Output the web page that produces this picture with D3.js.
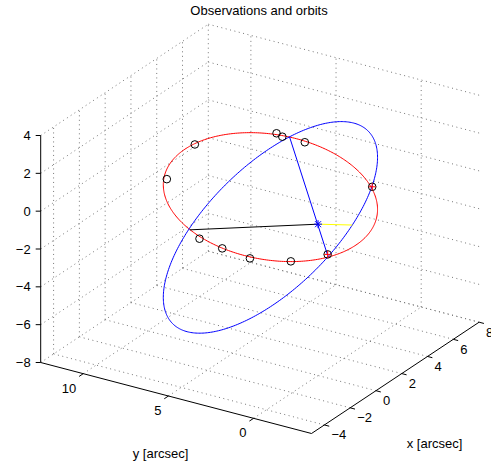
<!DOCTYPE html>
<html>
<head>
<meta charset="utf-8">
<script src="https://cdn.jsdelivr.net/npm/d3@7"></script>
<style>
  body { margin: 0; background: #fff; }
  svg text { font-family: "Liberation Sans", Arial, sans-serif; font-size: 13px; fill: #000; }
</style>
</head>
<body>
<div id="chart"></div>
<script>
// Observations and orbits - 3D view (MATLAB style)

// axis limits and ticks
var xLim = [-5, 8], yLim = [-3.4, 12.5], zLim = [-8, 4]
var xTicks = [-4, -2, 0, 2, 4, 6, 8]
var yTicks = [0, 5, 10]
var zTicks = [-8, -6, -4, -2, 0, 2, 4]

// observed positions (sky plane, z = 0)
var obsX = [3.97, 0.45, 6.70, 6.54, 6.57, 4.32, -2.32, -3.71, -4.36, -4.13, -3.82]
var obsY = [10.24, 9.22, 7.51, 7.05, 5.75, 0.09, -2.32, -1.21, 0.70, 2.50, 4.07]

// marked observations (red +)
var markX = [4.32, -2.32]
var markY = [0.09, -2.32]

// true orbit: centre and two conjugate half-axes (x, y, z)
var orbitCenter = [1.22, 3.72, -1.60]
var orbitA = [1.32, -5.29, 4.35]
var orbitB = [-5.30, -4.01, -0.85]

// line of nodes end points
var nodes = [[6.68, 6.73, 0], [-2.38, -2.36, 0]]
// apastron / periastron
var apastron = [3.57, 10.23, -4.33]
var periastron = [-1.19, -2.91, 1.18]
var star = [0, 0, 0]

var width = 491
var height = 463

var svg = d3.select('#chart')
  .append('svg')
  .attr('width', width)
  .attr('height', height)

// scales to unit box, then projection of the box onto the screen
var xS = d3.scaleLinear().domain(xLim).range([0, 1])
var yS = d3.scaleLinear().domain(yLim).range([0, 1])
var zS = d3.scaleLinear().domain(zLim).range([0, 1])

var C0 = [311.5, 433.5]      // (xmin, ymin, zmin)
var EX = [167.6, -111.3]     // full x edge
var EY = [-270.8, -71.0]     // full y edge
var EZ = [0, -227]           // full z edge

function proj(x, y, z) {
  var u = xS(x), v = yS(y), w = zS(z)
  return [C0[0] + u * EX[0] + v * EY[0] + w * EZ[0],
          C0[1] + u * EX[1] + v * EY[1] + w * EZ[1]]
}

function seg(g, a, b) {
  var p = proj(a[0], a[1], a[2]), q = proj(b[0], b[1], b[2])
  return g.append('line')
    .attr('x1', p[0]).attr('y1', p[1])
    .attr('x2', q[0]).attr('y2', q[1])
}

// grid on back planes
var grid = svg.append('g')
  .attr('stroke', '#777')
  .attr('stroke-width', 1)
  .attr('stroke-dasharray', '1,3.5')
  .attr('fill', 'none')

xTicks.forEach(function (x) {
  seg(grid, [x, yLim[0], zLim[0]], [x, yLim[1], zLim[0]])
  seg(grid, [x, yLim[1], zLim[0]], [x, yLim[1], zLim[1]])
})
yTicks.forEach(function (y) {
  seg(grid, [xLim[0], y, zLim[0]], [xLim[1], y, zLim[0]])
  seg(grid, [xLim[1], y, zLim[0]], [xLim[1], y, zLim[1]])
})
zTicks.forEach(function (z) {
  seg(grid, [xLim[0], yLim[1], z], [xLim[1], yLim[1], z])
  seg(grid, [xLim[1], yLim[0], z], [xLim[1], yLim[1], z])
})

// axes
var axes = svg.append('g').attr('stroke', '#000').attr('stroke-width', 1)
seg(axes, [xLim[0], yLim[1], zLim[0]], [xLim[0], yLim[1], zLim[1]])
seg(axes, [xLim[0], yLim[1], zLim[0]], [xLim[0], yLim[0], zLim[0]])
seg(axes, [xLim[0], yLim[0], zLim[0]], [xLim[1], yLim[0], zLim[0]])

// tick direction vectors
var exLen = Math.hypot(EX[0], EX[1]), eyLen = Math.hypot(EY[0], EY[1])
var tl = 5

zTicks.forEach(function (z) {
  var p = proj(xLim[0], yLim[1], z)
  axes.append('line')
    .attr('x1', p[0]).attr('y1', p[1])
    .attr('x2', p[0] - tl).attr('y2', p[1])
  svg.append('text')
    .attr('x', p[0] - 10).attr('y', p[1])
    .attr('dy', '0.35em')
    .attr('text-anchor', 'end')
    .text(String(z).replace('-', '\u2212'))
})

yTicks.forEach(function (y) {
  var p = proj(xLim[0], y, zLim[0])
  axes.append('line')
    .attr('x1', p[0]).attr('y1', p[1])
    .attr('x2', p[0] - tl * EX[0] / exLen).attr('y2', p[1] - tl * EX[1] / exLen)
  svg.append('text')
    .attr('x', p[0] - 7).attr('y', p[1] + 14.5)
    .attr('dy', '0.35em')
    .attr('text-anchor', 'end')
    .text(y)
})

xTicks.forEach(function (x) {
  var p = proj(x, yLim[0], zLim[0])
  axes.append('line')
    .attr('x1', p[0]).attr('y1', p[1])
    .attr('x2', p[0] - tl * EY[0] / eyLen).attr('y2', p[1] - tl * EY[1] / eyLen)
  svg.append('text')
    .attr('x', p[0] + 7).attr('y', p[1] + 10)
    .attr('dy', '0.35em')
    .attr('text-anchor', 'start')
    .text(String(x).replace('-', '\u2212'))
})

// labels
svg.append('text')
  .text('Observations and orbits')
  .attr('x', 259).attr('y', 14.5)
  .attr('text-anchor', 'middle')

svg.append('text')
  .text('y [arcsec]')
  .attr('x', 160.5).attr('y', 458)
  .attr('text-anchor', 'middle')

svg.append('text')
  .text('x [arcsec]')
  .attr('x', 434.5).attr('y', 447.5)
  .attr('text-anchor', 'middle')

// orbits
var ts = d3.range(0, 361).map(function (d) { return d * Math.PI / 180 })
function orbitPoint(t, flat) {
  var c = Math.cos(t), s = Math.sin(t)
  var x = orbitCenter[0] + orbitA[0] * c + orbitB[0] * s
  var y = orbitCenter[1] + orbitA[1] * c + orbitB[1] * s
  var z = flat ? 0 : orbitCenter[2] + orbitA[2] * c + orbitB[2] * s
  return proj(x, y, z)
}
var line = d3.line()

svg.append('path')
  .attr('d', line(ts.map(function (t) { return orbitPoint(t, true) })))
  .attr('fill', 'none').attr('stroke', '#ff0000').attr('stroke-width', 1)

svg.append('path')
  .attr('d', line(ts.map(function (t) { return orbitPoint(t, false) })))
  .attr('fill', 'none').attr('stroke', '#0000ff').attr('stroke-width', 1)

// line of nodes and apsides
seg(svg, nodes[0], nodes[1]).attr('stroke', '#0000ff').attr('stroke-width', 1)
seg(svg, star, apastron).attr('stroke', '#000').attr('stroke-width', 1)
seg(svg, star, periastron).attr('stroke', '#ffff00').attr('stroke-width', 1)

// observations
svg.append('g').selectAll('circle')
  .data(obsX)
  .join('circle')
  .attr('cx', function (d, i) { return proj(obsX[i], obsY[i], 0)[0] })
  .attr('cy', function (d, i) { return proj(obsX[i], obsY[i], 0)[1] })
  .attr('r', 3.8)
  .attr('fill', 'none')
  .attr('stroke', '#000')
  .attr('stroke-width', 1)

// marked points
markX.forEach(function (x, i) {
  var p = proj(x, markY[i], 0)
  svg.append('path')
    .attr('d', 'M' + (p[0] - 3.5) + ',' + p[1] + 'H' + (p[0] + 3.5) + 'M' + p[0] + ',' + (p[1] - 3.5) + 'V' + (p[1] + 3.5))
    .attr('stroke', '#ff0000').attr('stroke-width', 1)
})

// star
var sp = proj(star[0], star[1], star[2])
svg.append('path')
  .attr('d', 'M' + (sp[0] - 4) + ',' + sp[1] + 'H' + (sp[0] + 4) +
             'M' + sp[0] + ',' + (sp[1] - 4) + 'V' + (sp[1] + 4) +
             'M' + (sp[0] - 3) + ',' + (sp[1] - 3) + 'L' + (sp[0] + 3) + ',' + (sp[1] + 3) +
             'M' + (sp[0] - 3) + ',' + (sp[1] + 3) + 'L' + (sp[0] + 3) + ',' + (sp[1] - 3))
  .attr('stroke', '#0000ff').attr('stroke-width', 1)
</script>
</body>
</html>
